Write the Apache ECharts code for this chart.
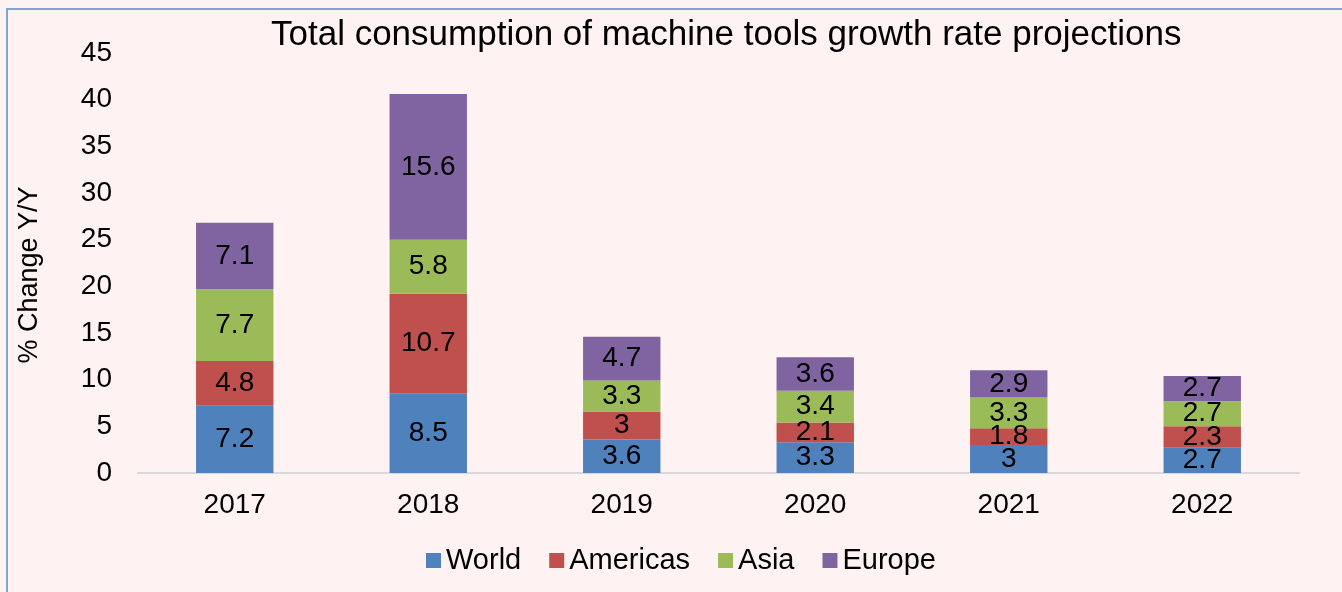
<!DOCTYPE html>
<html>
<head>
<meta charset="utf-8">
<script src="https://cdn.jsdelivr.net/npm/echarts@6/dist/echarts.min.js"></script>
<style>
body{margin:0;background:#fff;}
#chart{position:absolute;left:0;top:0;width:1342px;height:592px;}
#frame{position:absolute;left:6px;top:8px;width:1342px;height:592px;border-left:2px solid #7fa3d3;border-top:2px solid #7fa3d3;pointer-events:none;}
</style>
</head>
<body>
<div id="chart"></div>
<div id="frame"></div>
<script>
var years = ['2017','2018','2019','2020','2021','2022']
var world = [7.2, 8.5, 3.6, 3.3, 3, 2.7]
var americas = [4.8, 10.7, 3, 2.1, 1.8, 2.3]
var asia = [7.7, 5.8, 3.3, 3.4, 3.3, 2.7]
var europe = [7.1, 15.6, 4.7, 3.6, 2.9, 2.7]

var font = 'Liberation Sans, Arial, sans-serif'

function make_series(name, data, color){
	return {
		name:name,
		type:'bar',
		stack:'total',
		barWidth:'40%',
		data:data,
		itemStyle:{color:color},
		label:{
			show:true,
			position:'inside',
			color:'#000',
			fontSize:28,
			fontFamily:font
		}
	}
}

var my_chart = echarts.init(document.getElementById('chart'))
my_chart.setOption({
	backgroundColor:'#fff2f2',
	animation:false,
	title:{
		text:'Total consumption of machine tools growth rate projections',
		left:266,
		top:13,
		textStyle:{fontSize:35,fontWeight:'normal',color:'#000',fontFamily:font}
	},
	legend:{
		data:['World','Americas','Asia','Europe'],
		left:421,
		top:541,
		itemWidth:15,
		itemHeight:15,
		itemGap:28,
		icon:'rect',
		textStyle:{fontSize:29,color:'#000',fontFamily:font}
	},
	grid:{left:138,right:43,top:53,bottom:119},
	xAxis:{
		type:'category',
		data:years,
		axisLine:{lineStyle:{color:'#d9d9d9',width:2}},
		axisTick:{show:false},
		axisLabel:{fontSize:28,color:'#000',margin:18,fontFamily:font}
	},
	yAxis:{
		type:'value',
		min:0,
		max:45,
		interval:5,
		name:'% Change Y/Y',
		nameLocation:'middle',
		nameGap:95,
		nameTextStyle:{fontSize:27,color:'#000',fontFamily:font,padding:[0,24,0,0]},
		splitLine:{show:false},
		axisLine:{show:false},
		axisTick:{show:false},
		axisLabel:{fontSize:28,color:'#000',margin:26,fontFamily:font}
	},
	series:[
		make_series('World', world, '#4f81bd'),
		make_series('Americas', americas, '#c0504d'),
		make_series('Asia', asia, '#9bbb59'),
		make_series('Europe', europe, '#8064a2')
	]
})
</script>
</body>
</html>
